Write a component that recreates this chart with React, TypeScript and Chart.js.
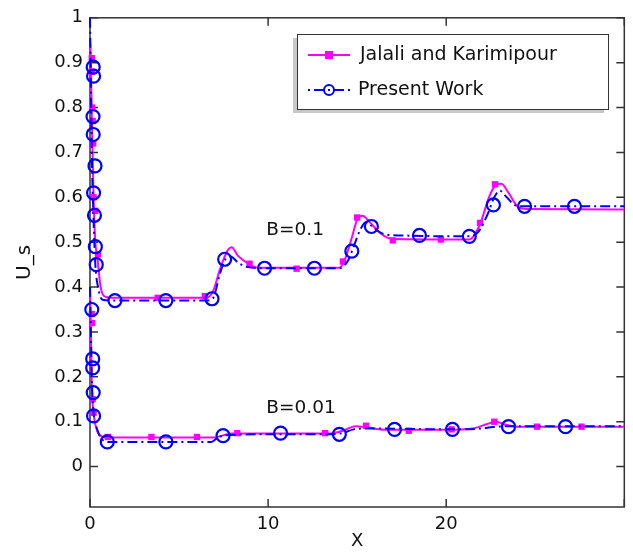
import React, { useEffect, useRef } from "react";
import { Chart, registerables } from "chart.js";

Chart.register(...registerables);

// ---- data ----
// Jalali and Karimipour, B=0.1 (curve)
const jk1X = [0, 0.05, 0.1, 0.2, 0.3, 0.4, 0.6, 0.9, 1.5, 6.5, 6.9, 7.3, 7.7, 7.95, 8.3, 8.9, 9.5, 14.0, 14.3, 14.7, 15.0, 15.3, 15.7, 16.3, 17.0, 21.3, 21.9, 22.4, 22.8, 23.1, 23.5, 24.0, 24.5, 30];
const jk1Y = [0.95, 0.9, 0.78, 0.6, 0.5, 0.47, 0.4, 0.378, 0.376, 0.376, 0.39, 0.44, 0.48, 0.489, 0.47, 0.452, 0.443, 0.443, 0.46, 0.51, 0.55, 0.559, 0.545, 0.52, 0.507, 0.506, 0.54, 0.6, 0.628, 0.63, 0.61, 0.58, 0.574, 0.573];
// Jalali and Karimipour, B=0.1 (markers)
const jk1MX = [0.1, 0.1, 0.12, 0.15, 0.18, 0.2, 0.3, 0.45, 3.8, 6.45, 8.96, 11.6, 14.2, 15.0, 17.0, 19.7, 21.9, 22.75];
const jk1MY = [0.91, 0.88, 0.8, 0.77, 0.72, 0.6, 0.57, 0.473, 0.376, 0.38, 0.452, 0.441, 0.457, 0.555, 0.504, 0.506, 0.543, 0.629];

// Present Work, B=0.1 (curve)
const pw1X = [0, 0.05, 0.1, 0.2, 0.3, 0.45, 0.7, 1.5, 6.5, 6.9, 7.3, 7.6, 7.9, 8.3, 8.8, 9.8, 14.0, 14.5, 14.8, 15.2, 15.5, 15.9, 16.5, 17.5, 21.3, 21.8, 22.3, 22.7, 23.0, 23.4, 23.9, 24.4, 30];
const pw1Y = [1.0, 0.85, 0.7, 0.55, 0.45, 0.4, 0.372, 0.37, 0.37, 0.375, 0.43, 0.462, 0.468, 0.455, 0.445, 0.442, 0.442, 0.46, 0.49, 0.53, 0.545, 0.533, 0.518, 0.515, 0.513, 0.523, 0.56, 0.6, 0.615, 0.6, 0.582, 0.58, 0.58];
// Present Work, B=0.1 (markers)
const pw1MX = [0.18, 0.2, 0.17, 0.18, 0.28, 0.2, 0.25, 0.3, 0.35, 1.4, 4.26, 6.85, 7.56, 9.8, 12.6, 14.7, 15.8, 18.5, 21.3, 22.65, 24.4, 27.2];
const pw1MY = [0.89, 0.87, 0.78, 0.74, 0.67, 0.61, 0.56, 0.49, 0.45, 0.37, 0.37, 0.374, 0.462, 0.442, 0.442, 0.48, 0.535, 0.515, 0.513, 0.583, 0.58, 0.58];

// Jalali and Karimipour, B=0.01 (curve)
const jk2X = [0, 0.05, 0.1, 0.2, 0.4, 0.7, 1.0, 7.0, 7.5, 8.0, 13.5, 14.2, 14.9, 15.5, 16.5, 20.0, 21.5, 22.3, 22.8, 23.3, 24.0, 30];
const jk2Y = [0.4, 0.3, 0.18, 0.12, 0.08, 0.067, 0.065, 0.065, 0.07, 0.074, 0.074, 0.08, 0.09, 0.088, 0.082, 0.082, 0.085, 0.095, 0.1, 0.094, 0.089, 0.089];
// Jalali and Karimipour, B=0.01 (markers)
const jk2MX = [0.1, 0.12, 0.15, 0.2, 1.0, 3.45, 6.0, 8.27, 13.2, 15.5, 17.9, 20.3, 22.7, 25.1, 27.6];
const jk2MY = [0.34, 0.32, 0.15, 0.12, 0.066, 0.066, 0.066, 0.0745, 0.0745, 0.091, 0.08, 0.083, 0.1, 0.089, 0.089];

// Present Work, B=0.01 (curve)
const pw2X = [0, 0.05, 0.1, 0.2, 0.35, 0.6, 1.0, 6.8, 7.2, 7.6, 10.0, 13.5, 14.2, 14.8, 15.5, 20.0, 22.0, 22.6, 23.5, 30];
const pw2Y = [0.4, 0.3, 0.2, 0.12, 0.09, 0.065, 0.055, 0.055, 0.065, 0.07, 0.072, 0.072, 0.075, 0.083, 0.085, 0.083, 0.085, 0.088, 0.09, 0.09];
// Present Work, B=0.01 (markers)
const pw2MX = [0.1, 0.15, 0.15, 0.18, 0.2, 0.97, 4.26, 7.47, 10.7, 14.0, 17.1, 20.35, 23.5, 26.7];
const pw2MY = [0.35, 0.24, 0.22, 0.165, 0.113, 0.055, 0.055, 0.069, 0.0745, 0.072, 0.083, 0.083, 0.089, 0.089];

const xTicks = [0, 10, 20];
const yTicks = [0, 0.1, 0.2, 0.3, 0.4, 0.5, 0.6, 0.7, 0.8, 0.9, 1];
const seriesNames = ["Jalali and Karimipour", "Present Work"];
const annotations = [
  { text: "B=0.1", x: 9.9, y: 0.527 },
  { text: "B=0.01", x: 9.9, y: 0.13 },
];

const MAGENTA = "#ff00ff";
const BLUE = "#0000ff";
const DASH = [10, 4, 2, 4];
const FONT = "'DejaVu Sans', sans-serif";

const pts = (xs: number[], ys: number[]) => xs.map((x, i) => ({ x, y: ys[i] }));

const framePlugin = {
  id: "frame",
  beforeDatasetsDraw(chart: any) {
    const { ctx, chartArea: a, scales } = chart;
    const xs = scales.x, ys = scales.y;
    ctx.save();
    ctx.strokeStyle = "#333";
    ctx.lineWidth = 1.5;
    ctx.strokeRect(a.left, a.top, a.right - a.left, a.bottom - a.top);
    const tl = 8;
    ctx.beginPath();
    for (const v of xTicks.concat([30])) {
      const px = xs.getPixelForValue(v);
      ctx.moveTo(px, a.bottom); ctx.lineTo(px, a.bottom - tl);
      ctx.moveTo(px, a.top); ctx.lineTo(px, a.top + tl);
    }
    for (const v of yTicks) {
      const py = ys.getPixelForValue(v);
      ctx.moveTo(a.left, py); ctx.lineTo(a.left + tl, py);
      ctx.moveTo(a.right, py); ctx.lineTo(a.right - tl, py);
    }
    ctx.stroke();
    ctx.restore();
  },
  afterDraw(chart: any) {
    const { ctx, scales } = chart;
    ctx.save();
    ctx.fillStyle = "#111";
    ctx.font = `18.5px ${FONT}`;
    ctx.textBaseline = "middle";
    ctx.textAlign = "left";
    for (const an of annotations) {
      ctx.fillText(an.text, scales.x.getPixelForValue(an.x), scales.y.getPixelForValue(an.y));
    }
    // legend
    const bx = 297, by = 34, bw = 311, bh = 75;
    ctx.fillStyle = "#c8c8c8";
    ctx.fillRect(bx - 4, by + 4, bw, bh);
    ctx.fillStyle = "#fff";
    ctx.fillRect(bx, by, bw, bh);
    ctx.strokeStyle = "#333";
    ctx.lineWidth = 1;
    ctx.strokeRect(bx + 0.5, by + 0.5, bw, bh);
    const rows = [55, 90];
    ctx.strokeStyle = MAGENTA;
    ctx.lineWidth = 2;
    ctx.beginPath(); ctx.moveTo(308, rows[0]); ctx.lineTo(350, rows[0]); ctx.stroke();
    ctx.fillStyle = MAGENTA;
    ctx.fillRect(329 - 4, rows[0] - 4, 8, 8);
    ctx.strokeStyle = BLUE;
    ctx.setLineDash([2, 4, 10, 4]);
    ctx.beginPath(); ctx.moveTo(308, rows[1]); ctx.lineTo(350, rows[1]); ctx.stroke();
    ctx.setLineDash([]);
    ctx.beginPath(); ctx.arc(329, rows[1], 5, 0, Math.PI * 2); ctx.stroke();
    ctx.fillStyle = "#111";
    ctx.font = `19px ${FONT}`;
    ctx.fillText(seriesNames[0], 360, rows[0]);
    ctx.fillText(seriesNames[1], 358, rows[1]);
    ctx.restore();
  },
};

export default function App() {
  const ref = useRef<HTMLCanvasElement | null>(null);
  useEffect(() => {
    if (!ref.current) return;
    const curve = (label: string, data: any, color: string, dash: number[], order: number) => ({
      label, data, borderColor: color, backgroundColor: color, borderWidth: 2,
      borderDash: dash, showLine: true, pointRadius: 0, cubicInterpolationMode: "monotone",
      clip: false, order,
    });
    const marks = (label: string, data: any, style: string, r: number, fill: string, color: string, bw: number, order: number) => ({
      label, data, pointStyle: style, pointRadius: r, backgroundColor: fill, borderColor: color,
      borderWidth: bw, showLine: false, clip: false, order,
    });
    const chart = new Chart(ref.current, {
      type: "scatter",
      data: {
        datasets: [
          curve(seriesNames[0], pts(jk1X, jk1Y), MAGENTA, [], 6),
          curve(seriesNames[0], pts(jk2X, jk2Y), MAGENTA, [], 6),
          marks(seriesNames[0], pts(jk1MX, jk1MY), "rect", 4.5, MAGENTA, MAGENTA, 0, 5),
          marks(seriesNames[0], pts(jk2MX, jk2MY), "rect", 4.5, MAGENTA, MAGENTA, 0, 5),
          curve(seriesNames[1], pts(pw1X, pw1Y), BLUE, DASH, 2),
          curve(seriesNames[1], pts(pw2X, pw2Y), BLUE, DASH, 2),
          marks(seriesNames[1], pts(pw1MX, pw1MY), "circle", 6.5, "rgba(0,0,0,0)", BLUE, 2.2, 1),
          marks(seriesNames[1], pts(pw2MX, pw2MY), "circle", 6.5, "rgba(0,0,0,0)", BLUE, 2.2, 1),
        ] as any,
      },
      options: {
        animation: false,
        responsive: true,
        maintainAspectRatio: false,
        layout: { padding: { top: 14, right: 6, left: 0, bottom: 0 } },
        plugins: { legend: { display: false }, tooltip: { enabled: false } },
        scales: {
          x: {
            type: "linear", min: 0, max: 30,
            grid: { display: false, drawTicks: false },
            border: { display: false },
            afterBuildTicks: (s: any) => { s.ticks = xTicks.map((v) => ({ value: v })); },
            afterFit: (s: any) => { s.height = 45; },
            ticks: { color: "#111", font: { family: FONT, size: 18 }, padding: 7, maxRotation: 0 },
            title: { display: true, text: "X", color: "#111", font: { family: FONT, size: 18 }, padding: { top: 0, bottom: 0 } },
          },
          y: {
            type: "linear", min: -0.09, max: 1,
            grid: { display: false, drawTicks: false },
            border: { display: false },
            afterBuildTicks: (s: any) => { s.ticks = yTicks.map((v) => ({ value: v })); },
            afterFit: (s: any) => { s.width = 90; },
            ticks: { color: "#111", font: { family: FONT, size: 18 }, padding: 7, callback: (v: any) => String(Math.round(v * 10) / 10) },
            title: { display: true, text: "U_s", color: "#111", font: { family: FONT, size: 20 }, padding: { top: 13, bottom: 0 } },
          },
        },
      },
      plugins: [framePlugin],
    } as any);
    return () => chart.destroy();
  }, []);
  return (
    <div style={{ position: "fixed", left: 0, top: 0, width: 633, height: 552, background: "#fff" }}>
      <canvas ref={ref} />
    </div>
  );
}
